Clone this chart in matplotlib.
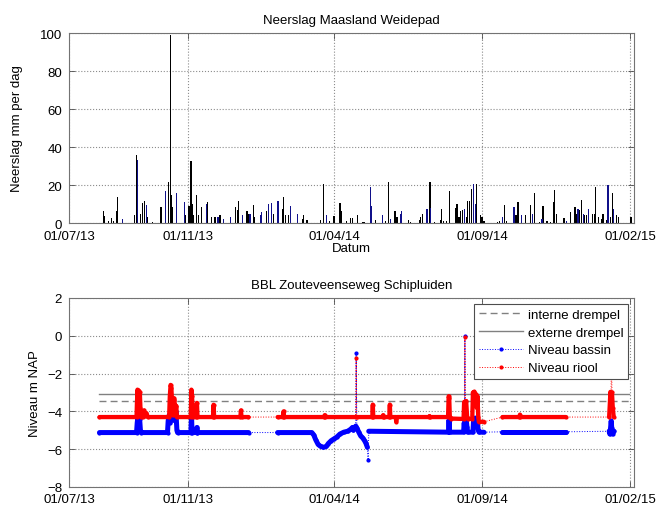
import numpy as np
import pandas as pd
import matplotlib
matplotlib.use('Agg')
import matplotlib.pyplot as plt

plt.rcParams['font.family'] = ['Liberation Sans', 'DejaVu Sans']
plt.rcParams['font.size'] = 9.5

# dagen geteld vanaf 01/07/2013
start = pd.Timestamp('2013-07-01')

# neerslag (mm per dag), twee kleuren staven
regen_dag_zwart = [36, 37, 41, 44, 46, 49, 50, 68, 70, 74, 76, 78, 81, 86, 95, 103, 105, 106, 107,
                   120, 124, 126, 127, 129, 132, 134, 137, 143, 147, 151, 156, 172, 174, 175,
                   184, 186, 191, 192, 204, 211, 221, 222, 224, 227, 241, 242, 246, 260, 263, 269,
                   274, 280, 281, 287, 291, 293, 298, 303, 305, 317,
                   327, 330, 337, 339, 351, 353, 362, 363, 365, 373, 378, 384, 385, 387, 390, 393,
                   400, 401, 403, 405, 407, 411, 412, 414, 416, 421, 425, 427, 429, 443, 445, 450,
                   452, 462, 464,
                   472, 477, 481, 486, 490, 494, 498, 501, 502, 504, 511, 512, 518, 523, 524, 528,
                   530, 533, 535, 541, 543, 544, 547, 551, 552, 556, 560, 562, 566, 568, 581]
regen_mm_zwart = [6.5, 3.8, 1, 2.5, 1, 6.5, 13.5, 4, 35.8, 4.7, 10.5, 11.7, 3, 0.5, 8.4, 21.4, 99, 14.9, 8.4,
                  4, 9, 32.8, 10, 4, 14.9, 4, 8.4, 11.2, 3, 3, 4, 8.4, 7, 11.7,
                  6.5, 5, 9.4, 3, 6.5, 5, 7.4, 13.5, 4, 4, 2, 4, 1.5, 1.5, 20.5, 1,
                  3.5, 10.4, 6.5, 1, 2.5, 2.5, 4, 0.5, 0.5, 1.5,
                  1, 21.4, 6.5, 3, 1.5, 0.5, 1.5, 3, 4.7, 21.8, 0.5, 1.5, 7.4, 1, 1, 16.7,
                  7.7, 10, 3, 6.5, 7, 3, 11.7, 11.7, 17.9, 20.5, 4, 3, 1, 0.5, 1, 9.4,
                  1, 4, 11.2,
                  4, 9.4, 15.6, 0.5, 8.8, 1, 0.5, 11, 17.2, 5, 2.5, 2.5, 5.6, 8.4, 5, 7,
                  12, 4, 4, 4.7, 5, 18.8, 3, 2, 4.5, 1.5, 3, 15.8, 4, 3, 3]
regen_dag_blauw = [55, 71, 80, 100, 111, 119, 142, 154, 160, 167,
                   179, 187, 198, 199, 206, 209, 216, 229, 236, 266, 312, 313,
                   324, 332, 343, 344, 370, 374, 409, 418, 420, 448, 460,
                   468, 479, 489, 514, 526, 532, 537, 557, 558, 563]
regen_mm_blauw = [2, 33, 9.3, 17, 15.6, 11, 10, 3, 2, 3,
                  4, 5, 4, 5.6, 10, 10.4, 11.7, 8.8, 4.7, 4, 18.8, 9,
                  4, 2, 4.7, 6.5, 7.4, 7.7, 7.4, 20.5, 10, 3, 8.4,
                  4, 4.7, 2, 1, 7.4, 5, 7.4, 20, 11, 7.4]

# niveaus (m NAP)
bassin_dagen = [31.5, 69.8, 70.5, 71.2, 72.0, 73.0, 73.8, 74.5, 101.8, 102.5, 103.5, 104.5, 105.5, 106.5,
                107.5, 108.5, 109.5, 110.5, 111.5, 112.2, 126.0, 126.6, 127.2, 131.8, 132.2, 132.6, 185.6,
                215.6, 251.0, 253.0, 255.0, 257.5, 260.0, 263.0, 266.0, 268.0, 271.0, 274.0, 277.0, 280.0,
                284.0, 288.0, 291.0, 293.0, 294.0, 295.5, 296.3, 296.8, 297.5, 299.5, 301.5, 303.5, 305.5,
                307.0, 308.4, 309.2, 309.8, 392.2, 392.8, 393.4, 407.8, 408.5, 408.9, 409.2, 409.6, 410.5,
                411.3, 412.0, 417.5, 418.2, 419.0, 420.0, 421.0, 422.0, 423.0, 423.8, 428.6,
                448.0, 513.5,
                558.3, 559.0, 559.7, 560.4, 561.0, 561.8, 562.5, 563.3]
bassin_niveau = [-5.12, -5.12, -4.6, -4.3, -4.6, -4.4, -5.0, -5.12, -5.12, -4.5, -4.2, -4.6, -4.0, -4.4,
                 -3.8, -4.3, -4.5, -4.0, -5.0, -5.12, -5.12, -4.2, -5.12, -5.12, -4.85, -5.12, -5.12,
                 -5.12, -5.12, -5.25, -5.5, -5.75, -5.85, -5.9, -5.85, -5.7, -5.55, -5.45, -5.35, -5.2,
                 -5.1, -5.05, -4.95, -4.85, -5.0, -4.85, -4.78, -0.93, -4.88, -5.1, -5.3, -5.4, -5.55,
                 -5.7, -5.9, -6.57, -5.05, -5.1, -4.45, -5.1, -5.1, -4.6, -4.9, -0.03, -4.5, -4.4,
                 -4.8, -5.1, -5.1, -4.4, -4.8, -4.35, -4.7, -4.5, -5.0, -5.1, -5.1,
                 -5.08, -5.08,
                 -5.05, -5.2, -4.9, -4.5, -4.9, -5.2, -5.1, -5.05]
bassin_losse_punten = [296.8, 309.2, 409.2]

riool_dagen = [31.5, 69.8, 70.2, 70.8, 71.4, 72.0, 72.6, 73.2, 73.8, 74.4, 76.5, 77.5, 78.5, 80.0, 81.5,
               103.5, 104.2, 105.0, 105.8, 106.6, 107.3, 108.2, 109.0, 109.8, 110.8, 111.6, 125.8, 126.5,
               127.2, 127.9, 131.6, 132.2, 132.8, 148.8, 149.4, 150.0, 177.1, 177.7, 178.3, 185.5,
               215.6, 221.3, 221.8, 222.3, 263.9, 264.3, 264.7, 296.3, 296.8,
               297.3, 313.5, 314.0, 314.5, 324.3, 324.7, 325.1, 331.1, 331.6, 332.1, 337.8, 338.2, 338.6,
               372.2, 372.6, 373.0, 391.8, 392.4, 393.0, 393.6, 395.0, 407.8, 408.4, 408.8, 409.2,
               409.6, 410.5, 411.5, 412.5, 416.8, 417.5, 418.3, 419.0, 419.8, 420.6, 421.4, 422.2, 423.0,
               423.6, 428.9,
               448.0, 465.6, 466.1, 466.6, 513.5,
               558.3, 559.0, 559.6, 560.2, 560.7, 561.2, 562.0, 563.0]
riool_niveau = [-4.3, -4.3, -3.6, -2.85, -3.4, -2.9, -3.5, -3.0, -3.8, -4.3, -4.3, -3.95, -4.25, -4.1, -4.3,
                -4.3, -3.2, -2.6, -2.75, -3.6, -4.2, -3.3, -3.4, -4.2, -3.7, -4.3, -4.3, -2.85,
                -3.2, -4.3, -4.3, -3.55, -4.3, -4.3, -3.65, -4.3, -4.3, -3.95, -4.3, -4.3,
                -4.3, -4.3, -4.0, -4.3, -4.3, -4.2, -4.3, -4.3, -1.15,
                -4.3, -4.3, -3.64, -4.3, -4.3, -4.2, -4.3, -4.3, -3.64, -4.3, -4.3, -4.55, -4.3,
                -4.3, -4.25, -4.3, -4.3, -3.2, -3.3, -4.3, -4.38, -4.4, -3.5, -4.0, -0.05,
                -3.5, -3.45, -4.3, -4.4, -4.4, -3.0, -3.5, -2.95, -3.6, -3.1, -3.8, -3.2, -4.3,
                -4.55, -4.55,
                -4.3, -4.3, -4.17, -4.3, -4.3,
                -4.3, -3.6, -2.97, -3.3, -1.0, -3.0, -3.8, -4.3]
riool_losse_punten = [296.8, 409.2, 560.7]

# perioden zonder metingen
meetgaten = [(185.5, 215.6), (428.5, 448.0), (513.5, 558.3)]

drempel_dagen = [31.5, 579.0]
interne_drempel = [-3.43, -3.43]
externe_drempel = [-3.07, -3.07]

tick_data = ['2013-07-01', '2013-11-01', '2014-04-01', '2014-09-01', '2015-02-01']
tick_labels = ['01/07/13', '01/11/13', '01/04/14', '01/09/14', '01/02/15']


def naar_datum(dagen):
    return start + pd.to_timedelta(np.asarray(dagen, dtype=float), unit='D')


def stukken(dagen, waarden, losse):
    # opeenvolgende metingen zonder gat en zonder losse piek
    runs, huidig = [], []
    for d, w in zip(dagen, waarden):
        if d in losse:
            if huidig:
                runs.append(huidig)
            huidig = []
            continue
        if huidig:
            vorige = huidig[-1][0]
            if any(a - 0.01 <= vorige and d <= b + 0.01 for a, b in meetgaten):
                runs.append(huidig)
                huidig = []
        huidig.append((d, w))
    if huidig:
        runs.append(huidig)
    return runs


def opmaak(ax, xpad):
    ax.grid(True, linestyle=':', color='0.55', linewidth=0.8)
    ax.set_axisbelow(True)
    ax.tick_params(direction='in', top=True, right=True, length=4, width=0.6, color='0.3',
                   labelsize=9.5)
    ax.tick_params(axis='x', pad=xpad)
    ax.tick_params(axis='y', pad=5)
    for s in ax.spines.values():
        s.set_color('0.45')
        s.set_linewidth(0.8)
    ax.set_xticks(pd.to_datetime(tick_data))
    ax.set_xticklabels(tick_labels)
    ax.set_xlim(start, pd.Timestamp('2015-02-05'))


fig = plt.figure(figsize=(6.56, 5.06), dpi=100)
ax1 = fig.add_axes([0.1052, 0.5573, 0.8613, 0.3755])
ax2 = fig.add_axes([0.1052, 0.0356, 0.8613, 0.3735])

ax1.bar(naar_datum(regen_dag_zwart), regen_mm_zwart, width=1.3, color='k', linewidth=0)
ax1.bar(naar_datum(regen_dag_blauw), regen_mm_blauw, width=1.3, color='#10108a', linewidth=0)
opmaak(ax1, 5)
ax1.set_ylim(0, 100)
ax1.set_yticks(range(0, 101, 20))
ax1.set_title('Neerslag Maasland Weidepad', fontsize=9.5, pad=7)
ax1.set_ylabel('Neerslag mm per dag', fontsize=9.5, labelpad=12)
ax1.set_xlabel('Datum', fontsize=9.5, labelpad=0)

h1, = ax2.plot(naar_datum(drempel_dagen), interne_drempel, '--', color='0.5', lw=1.0,
               dashes=(5, 3), label='interne drempel')
h2, = ax2.plot(naar_datum(drempel_dagen), externe_drempel, '-', color='0.5', lw=1.0,
               label='externe drempel')

reeksen = [(bassin_dagen, bassin_niveau, bassin_losse_punten, '#0000ff', 3.6, 'Niveau bassin'),
           (riool_dagen, riool_niveau, riool_losse_punten, '#ff0000', 3.1, 'Niveau riool')]
handles = [h1, h2]
for dagen, niveau, losse, kleur, dik, naam in reeksen:
    h, = ax2.plot(naar_datum(dagen), niveau, linestyle=':', lw=0.7, color=kleur, marker='.',
                  markersize=4, label=naam)
    for run in stukken(dagen, niveau, losse):
        d, w = zip(*run)
        ax2.plot(naar_datum(d), w, '-', color=kleur, lw=dik, solid_joinstyle='round',
                 solid_capstyle='round')
    handles.append(h)

opmaak(ax2, 4.5)
ax2.set_ylim(-8, 2)
ax2.set_yticks(range(-8, 3, 2))
ax2.set_title('BBL Zouteveenseweg Schipluiden', fontsize=9.5, pad=7)
ax2.set_ylabel('Niveau m NAP', fontsize=9.5)
leg = ax2.legend(handles=handles, loc='upper right', fontsize=9.5, handlelength=3.3,
                 framealpha=1, fancybox=False, edgecolor='0.3', borderaxespad=0.45,
                 labelspacing=0.42, borderpad=0.35, handletextpad=0.4, numpoints=1)
leg.get_frame().set_linewidth(0.8)

fig.savefig('out.png', dpi=100)
